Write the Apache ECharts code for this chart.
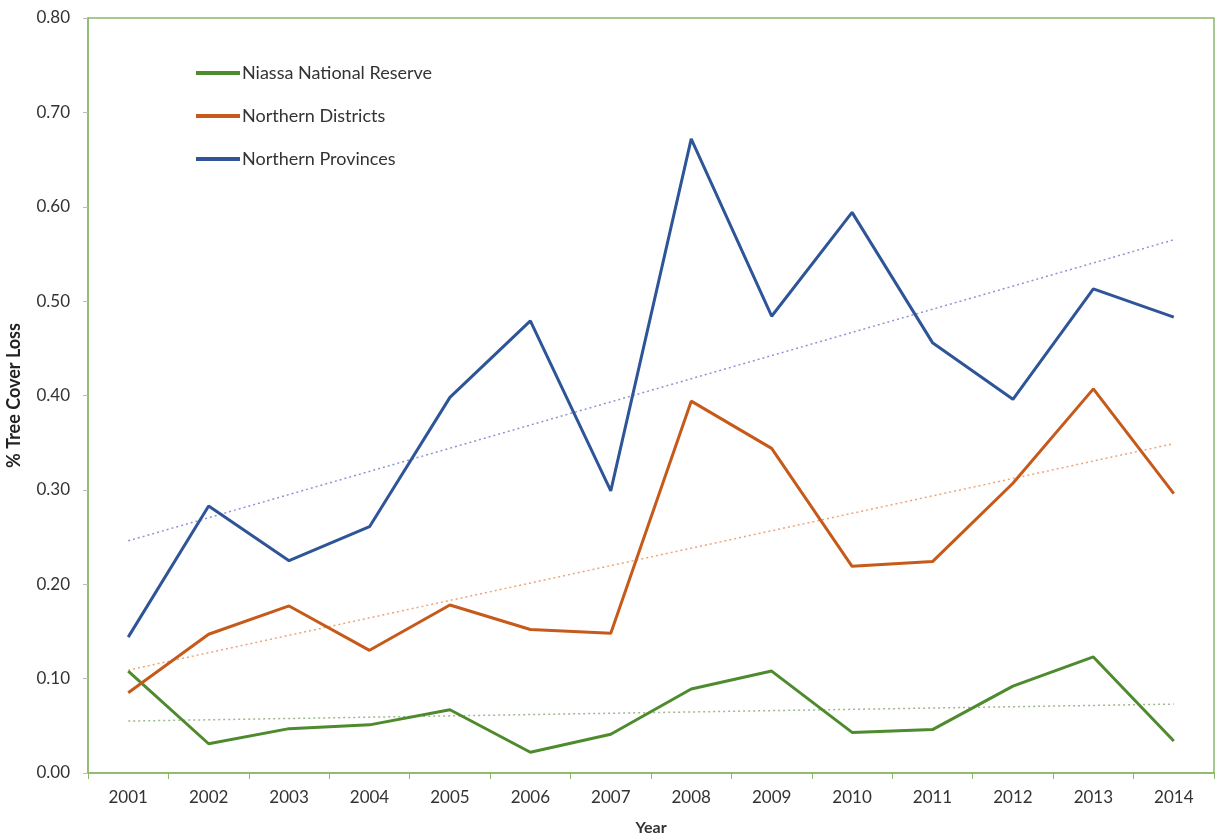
<!DOCTYPE html>
<html><head><meta charset="utf-8">
<script src="https://cdn.jsdelivr.net/npm/echarts@6/dist/echarts.min.js"></script>
<style>html,body{margin:0;padding:0;background:#fff}#c{width:1218px;height:840px}</style>
</head><body><div id="c"></div>
<script>
const years = ['2001','2002','2003','2004','2005','2006','2007','2008','2009','2010','2011','2012','2013','2014'];
const niassa = [0.108,0.031,0.047,0.051,0.067,0.022,0.041,0.089,0.108,0.043,0.046,0.092,0.123,0.034];
const districts = [0.085,0.147,0.177,0.130,0.178,0.152,0.148,0.394,0.344,0.219,0.224,0.307,0.407,0.296];
const provinces = [0.144,0.283,0.225,0.261,0.398,0.479,0.299,0.672,0.484,0.594,0.456,0.396,0.513,0.483];
// trend line end values (2001, 2014)
const niassaTrend = [0.055,0.073];
const districtsTrend = [0.109,0.349];
const provincesTrend = [0.246,0.565];

const font = 'Lato, "Open Sans", sans-serif';
const chart = echarts.init(document.getElementById('c'));
function trend(vals, color){
  return {type:'line', data:[[0,vals[0]],[years.length-1,vals[1]]], symbol:'none', silent:true,
    lineStyle:{color:color,width:1.5,type:[2,3]}, z:1};
}
chart.setOption({
  animation:false,
  grid:{left:88,top:18,right:4,bottom:67,show:true,borderColor:'#8cb86a',borderWidth:1.5,outerBoundsMode:'none',containLabel:false},
  legend:{orient:'vertical',left:191,top:59,itemGap:25,itemWidth:44,itemHeight:4,icon:'rect',
    textStyle:{fontFamily:font,fontSize:18,color:'#333',padding:[0,0,0,-3]},
    data:['Niassa National Reserve','Northern Districts','Northern Provinces']},
  xAxis:{type:'category',data:years,boundaryGap:true,
    name:'Year',nameLocation:'middle',nameGap:47,
    nameTextStyle:{fontFamily:font,fontSize:16,fontWeight:'bold',color:'#333'},
    axisLine:{lineStyle:{color:'#8cb86a',width:1.5}},
    axisTick:{show:true,length:6,lineStyle:{color:'#8cb86a'}},
    axisLabel:{fontFamily:font,fontSize:17,color:'#333',margin:16},
    splitLine:{show:false}},
  yAxis:{type:'value',min:0,max:0.8,interval:0.1,
    name:'% Tree Cover Loss',nameLocation:'middle',nameGap:65,
    nameTextStyle:{fontFamily:font,fontSize:18,fontWeight:'bold',color:'#222'},
    axisLine:{show:true,lineStyle:{color:'#8cb86a',width:1.5}},
    axisTick:{show:true,length:5,lineStyle:{color:'#bbb'}},
    axisLabel:{fontFamily:font,fontSize:17,color:'#333',margin:18,formatter:v=>v.toFixed(2)},
    splitLine:{show:false}},
  series:[
    {name:'Niassa National Reserve',type:'line',data:niassa,symbol:'none',lineStyle:{color:'#4e8a2e',width:3},itemStyle:{color:'#4e8a2e'},z:3},
    {name:'Northern Districts',type:'line',data:districts,symbol:'none',lineStyle:{color:'#c55a1a',width:3},itemStyle:{color:'#c55a1a'},z:3},
    {name:'Northern Provinces',type:'line',data:provinces,symbol:'none',lineStyle:{color:'#2e5597',width:3},itemStyle:{color:'#2e5597'},z:3},
    trend(niassaTrend,'#9fb88f'),
    trend(districtsTrend,'#eca47a'),
    trend(provincesTrend,'#8f95d2')
  ]
});
</script></body></html>
